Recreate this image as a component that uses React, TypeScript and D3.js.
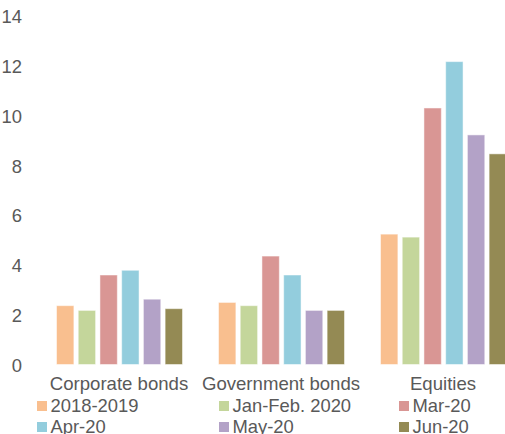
import * as d3 from "d3";

const categories = ["Corporate bonds", "Government bonds", "Equities"];
const series = ["2018-2019", "Jan-Feb. 2020", "Mar-20", "Apr-20", "May-20", "Jun-20"];
const colors = ["#F9BF8F", "#C4D69B", "#D99694", "#93CDDD", "#B3A2C7", "#948A54"];

// one array per series, in category order
const s2018_2019 = [2.36, 2.49, 5.23];
const sJanFeb2020 = [2.17, 2.36, 5.11];
const sMar20 = [3.59, 4.35, 10.29];
const sApr20 = [3.78, 3.59, 12.15];
const sMay20 = [2.62, 2.17, 9.21];
const sJun20 = [2.24, 2.17, 8.45];
const values = [s2018_2019, sJanFeb2020, sMar20, sApr20, sMay20, sJun20];

const yTicks = [0, 2, 4, 6, 8, 10, 12, 14];

const W = 505;
const H = 434;
const font = "'Liberation Sans', Arial, sans-serif";
const textColor = "#595959";

export default function App() {
  const x0 = d3.scaleBand().domain(categories).range([38.5, 524.5]).padding(0);
  const x1 = d3.scaleBand().domain(series).range([18, 144]).paddingInner(0.2);
  const y = d3.scaleLinear().domain([0, 14]).range([364.5, 15.5]);

  const legendCols = [37, 219, 399];
  const legendRows = [401, 422];

  return (
    <svg
      width={W}
      height={H}
      style={{ position: "absolute", left: 0, top: 0, display: "block", background: "#fff" }}
      fontFamily={font}
    >
      <g fill={textColor} fontSize={18.4} textAnchor="end">
        {yTicks.map((t) => (
          <text key={t} x={22} y={y(t) + 1} dominantBaseline="central">
            {t}
          </text>
        ))}
      </g>

      {categories.map((c, ci) => (
        <g key={c} transform={`translate(${x0(c)},0)`}>
          {series.map((s, si) => (
            <rect
              key={s}
              x={x1(s)}
              y={y(values[si][ci])}
              width={x1.bandwidth()}
              height={y(0) - y(values[si][ci])}
              fill={colors[si]}
              stroke="#fff"
              strokeOpacity={0.5}
              strokeWidth={1}
            />
          ))}
        </g>
      ))}

      <g fill={textColor} fontSize={18.6} textAnchor="middle">
        {categories.map((c) => (
          <text key={c} x={(x0(c) ?? 0) + x0.bandwidth() / 2 - 0.5} y={390}>
            {c}
          </text>
        ))}
      </g>

      <g fontSize={18.4} fill={textColor}>
        {series.map((s, i) => {
          const lx = legendCols[i % 3];
          const ly = legendRows[Math.floor(i / 3)];
          return (
            <g key={s} transform={`translate(${lx},${ly})`}>
              <rect width={10} height={10} fill={colors[i]} />
              <text x={13.5} y={10.7}>
                {s}
              </text>
            </g>
          );
        })}
      </g>
    </svg>
  );
}
